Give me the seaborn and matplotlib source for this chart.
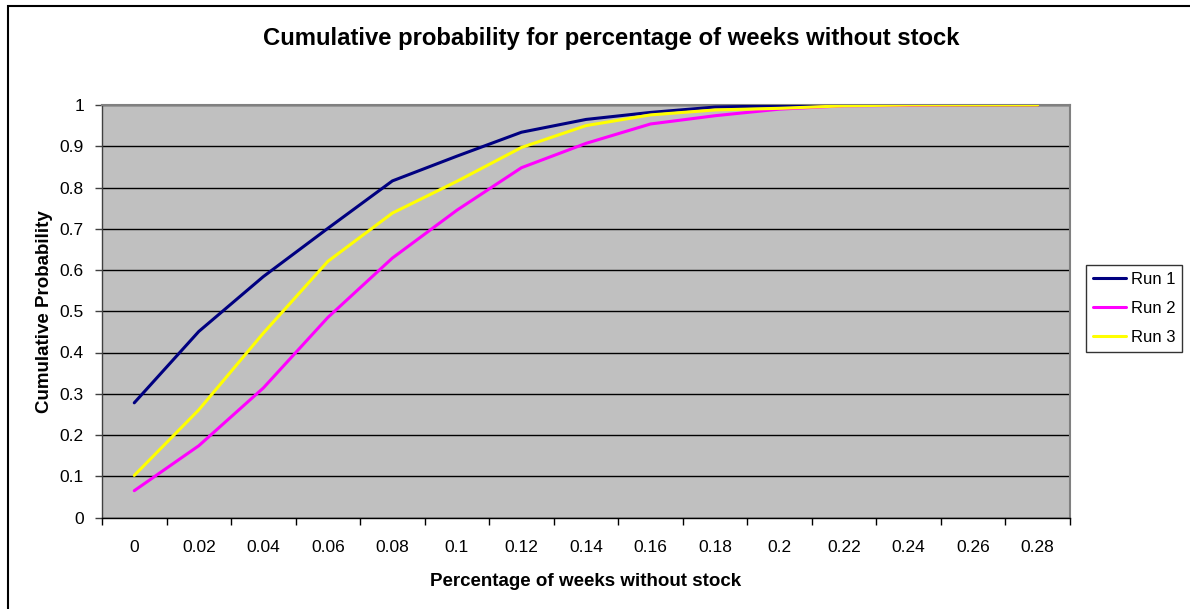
import matplotlib
matplotlib.use("Agg")
import matplotlib.pyplot as plt
import seaborn as sns
import pandas as pd
from matplotlib.patches import Rectangle
from matplotlib.ticker import FixedLocator

categories = [0, 0.02, 0.04, 0.06, 0.08, 0.1, 0.12, 0.14, 0.16, 0.18, 0.2, 0.22, 0.24, 0.26, 0.28]
tick_labels = ["0", "0.02", "0.04", "0.06", "0.08", "0.1", "0.12", "0.14", "0.16", "0.18",
               "0.2", "0.22", "0.24", "0.26", "0.28"]
run1 = [0.278, 0.451, 0.584, 0.701, 0.816, 0.876, 0.934, 0.965, 0.982, 0.995, 0.998, 1.0, 1.0, 1.0, 1.0]
run2 = [0.065, 0.174, 0.314, 0.485, 0.629, 0.745, 0.848, 0.907, 0.954, 0.974, 0.990, 0.998, 0.999, 1.0, 1.0]
run3 = [0.102, 0.261, 0.447, 0.621, 0.738, 0.815, 0.897, 0.950, 0.976, 0.988, 0.992, 0.998, 1.0, 1.0, 1.0]
series_names = ["Run 1", "Run 2", "Run 3"]
colors = ["#000080", "#FF00FF", "#FFFF00"]

sns.set_style("white")
plt.rcParams["font.family"] = ["Liberation Sans", "DejaVu Sans"]
plt.rcParams["text.color"] = "black"
plt.rcParams["axes.labelcolor"] = "black"
plt.rcParams["xtick.color"] = "black"
plt.rcParams["ytick.color"] = "black"

df = pd.DataFrame({
    "x": categories * 3,
    "y": run1 + run2 + run3,
    "series": [series_names[0]] * 15 + [series_names[1]] * 15 + [series_names[2]] * 15,
})

fig = plt.figure(figsize=(11.9, 6.09), dpi=100)
ax = fig.add_axes([102 / 1190, (609 - 517.5) / 609, 968 / 1190, 412.5 / 609])
ax.set_facecolor("#C0C0C0")

sns.lineplot(data=df, x="x", y="y", hue="series", palette=colors, linewidth=2.2,
             ax=ax, legend=True, zorder=3)

ax.set_xlim(-0.01, 0.29)
ax.set_ylim(0, 1)
ax.set_xticks(categories)
ax.set_xticklabels(tick_labels, fontsize=12.5)
ax.xaxis.set_minor_locator(FixedLocator([-0.01 + 0.02 * i for i in range(16)]))
ax.tick_params(axis="x", which="major", length=0, pad=16)
ax.tick_params(axis="x", which="minor", length=5, width=1, color="black", direction="out", bottom=True)
yt = [round(0.1 * i, 1) for i in range(11)]
ax.set_yticks(yt)
ax.set_yticklabels(["0", "0.1", "0.2", "0.3", "0.4", "0.5", "0.6", "0.7", "0.8", "0.9", "1"], fontsize=12.5)
ax.tick_params(axis="y", which="major", length=5, width=1, color="#404040", direction="out", left=True, pad=8)
ax.grid(axis="y", color="black", linewidth=1, zorder=1)
ax.grid(axis="x", visible=False)
ax.set_axisbelow(True)

for s in ["top", "right"]:
    ax.spines[s].set_color("#808080")
    ax.spines[s].set_linewidth(1.5)
ax.spines["left"].set_color("#404040")
ax.spines["left"].set_linewidth(1)
ax.spines["bottom"].set_color("black")
ax.spines["bottom"].set_linewidth(1)

ax.set_xlabel("Percentage of weeks without stock", fontsize=13.5, fontweight="bold", labelpad=13)
ax.set_ylabel("Cumulative Probability", fontsize=13.5, fontweight="bold", labelpad=5)
fig.text(611 / 1190, 1 - 39 / 609, "Cumulative probability for percentage of weeks without stock",
         ha="center", va="center", fontsize=17.2, fontweight="bold")

leg = ax.legend(loc="upper left", bbox_to_anchor=(1086 / 1190, 1 - 265 / 609),
                bbox_transform=fig.transFigure, frameon=True, fancybox=False,
                fontsize=12, handlelength=2.0, handletextpad=0.3, borderpad=0.4,
                labelspacing=0.85, borderaxespad=0, title=None)
leg.get_frame().set_edgecolor("black")
leg.get_frame().set_linewidth(1)
for line in leg.get_lines():
    line.set_linewidth(2.2)

fig.patches.append(Rectangle((8 / 1190, -0.01), 1.0, 1 - 6 / 609 + 0.01, transform=fig.transFigure,
                             fill=False, edgecolor="black", linewidth=1.5, figure=fig))

fig.savefig("out.png", dpi=100, facecolor="white")
